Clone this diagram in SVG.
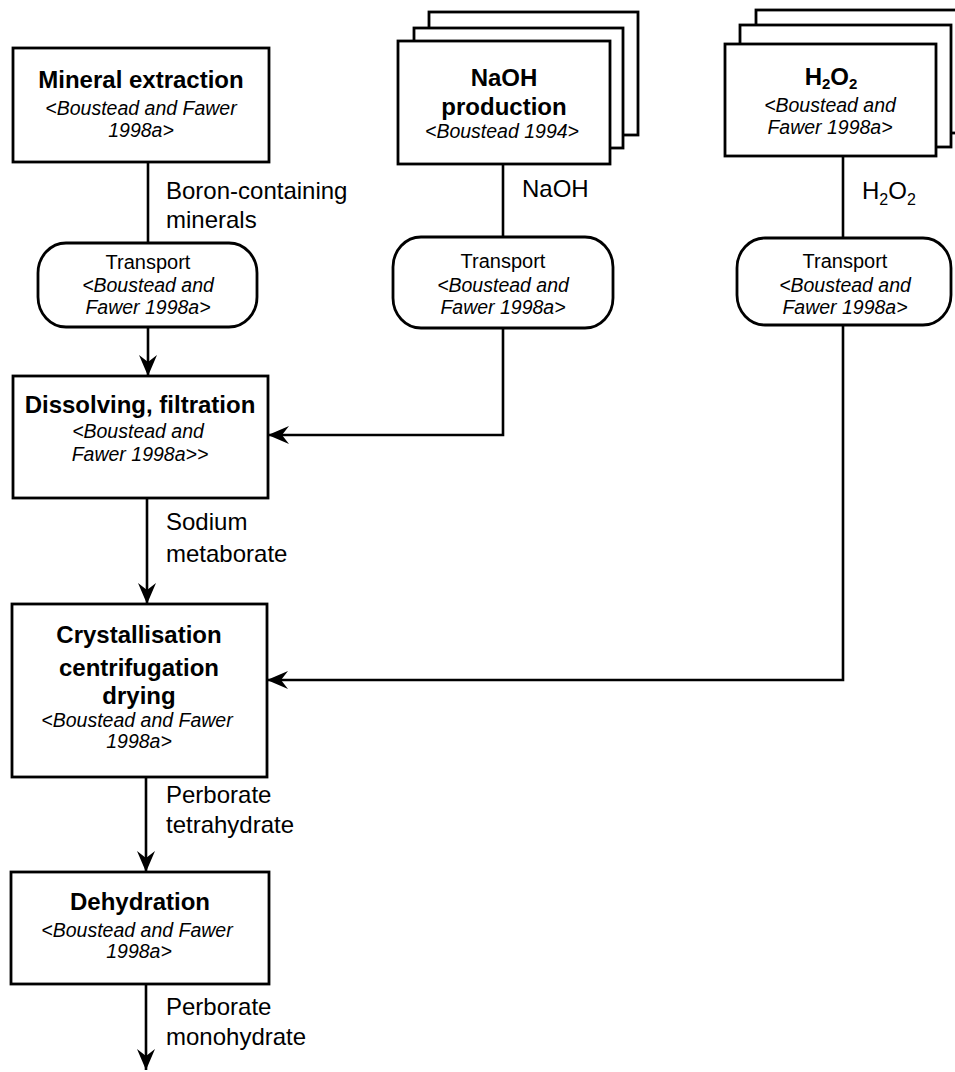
<svg xmlns="http://www.w3.org/2000/svg" width="955" height="1072" viewBox="0 0 955 1072">
  <style>
    .box { fill: #fff; stroke: #000; stroke-width: 2.8; }
    .conn { fill: none; stroke: #000; stroke-width: 2.6; }
    text { font-family: "Liberation Sans", Arial, sans-serif; fill: #000; }
    .title { font-size: 24px; font-weight: bold; text-anchor: middle; }
    .ref { font-size: 19.5px; font-style: italic; text-anchor: middle; }
    .tr { font-size: 20px; text-anchor: middle; }
    .lbl { font-size: 24px; }
    .sub { font-size: 16px; }
    .bsub { font-size: 15px; }
  </style>
  <defs>
    <marker id="arrow" markerUnits="userSpaceOnUse" viewBox="0 0 21 18" refX="21" refY="9" markerWidth="21" markerHeight="18" orient="auto">
      <path d="M21,9 L0,0 L7,9 L0,18 Z" fill="#000"/>
    </marker>
  </defs>

  <!-- connectors -->
  <g id="connectors">
    <line class="conn" x1="148" y1="162" x2="148" y2="243"/>
    <line class="conn" x1="148" y1="327" x2="148" y2="376" marker-end="url(#arrow)"/>
    <line class="conn" x1="503" y1="164" x2="503" y2="237"/>
    <polyline class="conn" points="503,328 503,435 268,435" marker-end="url(#arrow)"/>
    <line class="conn" x1="843" y1="156" x2="843" y2="238"/>
    <polyline class="conn" points="843,325 843,680 267,680" marker-end="url(#arrow)"/>
    <line class="conn" x1="147" y1="498" x2="147" y2="604" marker-end="url(#arrow)"/>
    <line class="conn" x1="146" y1="777" x2="146" y2="872" marker-end="url(#arrow)"/>
    <line class="conn" x1="146" y1="984" x2="146" y2="1070" marker-end="url(#arrow)"/>
    <!-- flow labels -->
    <text class="lbl" x="166" y="199">Boron-containing</text>
    <text class="lbl" x="166" y="228">minerals</text>
    <text class="lbl" x="522" y="197">NaOH</text>
    <text class="lbl" x="862" y="199">H<tspan class="sub" dy="6">2</tspan><tspan dy="-6">O</tspan><tspan class="sub" dy="6">2</tspan></text>
    <text class="lbl" x="166" y="530">Sodium</text>
    <text class="lbl" x="166" y="562">metaborate</text>
    <text class="lbl" x="166" y="803">Perborate</text>
    <text class="lbl" x="166" y="833">tetrahydrate</text>
    <text class="lbl" x="166" y="1015">Perborate</text>
    <text class="lbl" x="166" y="1045">monohydrate</text>
  </g>

  <g id="mineral-extraction">
    <rect class="box" x="13" y="48" width="256" height="114"/>
    <text class="title" x="141" y="88">Mineral extraction</text>
    <text class="ref" x="141" y="115">&lt;Boustead and Fawer</text>
    <text class="ref" x="141" y="137">1998a&gt;</text>
  </g>

  <g id="transport-minerals">
    <rect class="box" x="38" y="243" width="219" height="84" rx="28" ry="30"/>
    <text class="tr" x="148" y="269">Transport</text>
    <text class="ref" x="148" y="292">&lt;Boustead and</text>
    <text class="ref" x="148" y="314">Fawer 1998a&gt;</text>
  </g>

  <g id="naoh-production">
    <rect class="box" x="429" y="12" width="209" height="123"/>
    <rect class="box" x="414" y="28" width="209" height="120"/>
    <rect class="box" x="398" y="41" width="212" height="123"/>
    <text class="title" x="504" y="86">NaOH</text>
    <text class="title" x="504" y="115">production</text>
    <text class="ref" x="502" y="138">&lt;Boustead 1994&gt;</text>
  </g>

  <g id="transport-naoh">
    <rect class="box" x="393" y="237" width="220" height="91" rx="28" ry="30"/>
    <text class="tr" x="503" y="268">Transport</text>
    <text class="ref" x="503" y="292">&lt;Boustead and</text>
    <text class="ref" x="503" y="314">Fawer 1998a&gt;</text>
  </g>

  <g id="h2o2-production">
    <rect class="box" x="756" y="10" width="212" height="123"/>
    <rect class="box" x="740" y="25" width="211" height="122"/>
    <rect class="box" x="725" y="44" width="211" height="112"/>
    <text class="title" x="831" y="85">H<tspan class="bsub" dy="4">2</tspan><tspan dy="-4">O</tspan><tspan class="bsub" dy="4">2</tspan></text>
    <text class="ref" x="830" y="112">&lt;Boustead and</text>
    <text class="ref" x="830" y="134">Fawer 1998a&gt;</text>
  </g>

  <g id="transport-h2o2">
    <rect class="box" x="737" y="238" width="214" height="87" rx="28" ry="30"/>
    <text class="tr" x="845" y="268">Transport</text>
    <text class="ref" x="845" y="292">&lt;Boustead and</text>
    <text class="ref" x="845" y="314">Fawer 1998a&gt;</text>
  </g>

  <g id="dissolving-filtration">
    <rect class="box" x="13" y="376" width="255" height="122"/>
    <text class="title" x="140" y="413">Dissolving, filtration</text>
    <text class="ref" x="138" y="438">&lt;Boustead and</text>
    <text class="ref" x="140" y="461">Fawer 1998a&gt;&gt;</text>
  </g>

  <g id="crystallisation">
    <rect class="box" x="12" y="604" width="255" height="173"/>
    <text class="title" x="139" y="643">Crystallisation</text>
    <text class="title" x="139" y="676">centrifugation</text>
    <text class="title" x="139" y="704">drying</text>
    <text class="ref" x="137" y="727">&lt;Boustead and Fawer</text>
    <text class="ref" x="139" y="748">1998a&gt;</text>
  </g>

  <g id="dehydration">
    <rect class="box" x="11" y="872" width="258" height="112"/>
    <text class="title" x="140" y="910">Dehydration</text>
    <text class="ref" x="137" y="937">&lt;Boustead and Fawer</text>
    <text class="ref" x="139" y="958">1998a&gt;</text>
  </g>
</svg>
